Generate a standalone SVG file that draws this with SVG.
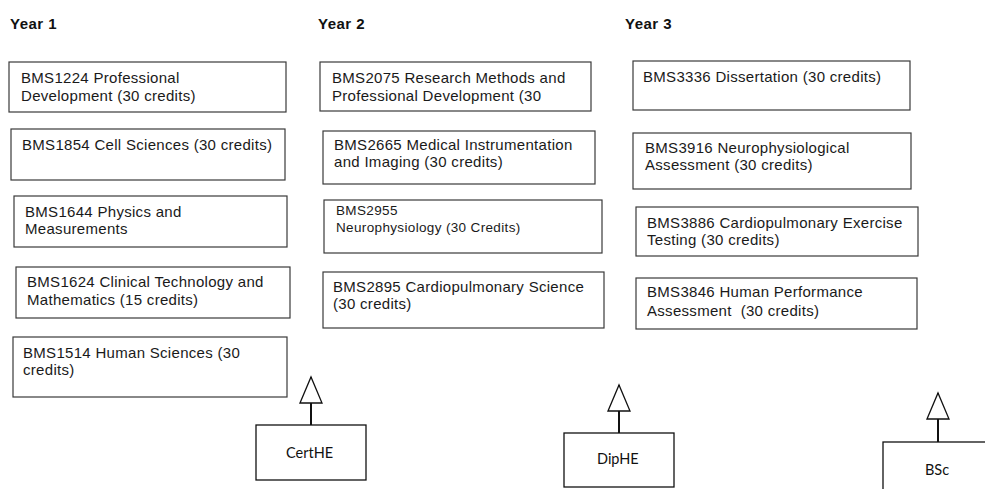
<svg xmlns="http://www.w3.org/2000/svg" width="985" height="489" viewBox="0 0 985 489">
<style>
  .bg{fill:#ffffff}
  .box{fill:#ffffff;stroke:#3a3a3a;stroke-width:1.2}
  .t{font-family:"Liberation Sans",Arial,sans-serif;font-size:15px;letter-spacing:0.3px;fill:#1a1a1a;white-space:pre}
  .ts{font-family:"Liberation Sans",Arial,sans-serif;font-size:13.5px;letter-spacing:0.35px;fill:#1a1a1a}
  .h{font-family:"Liberation Sans",Arial,sans-serif;font-size:15px;font-weight:bold;letter-spacing:0.5px;fill:#111}
  .q{fill:#ffffff;stroke:#111;stroke-width:1.3}
  .qt{font-family:Lato,"Liberation Sans",sans-serif;font-size:14.5px;fill:#111}
  .stem{stroke:#111;stroke-width:2;fill:none}
</style>
<defs>
  <marker id="tri" markerUnits="userSpaceOnUse" markerWidth="30" markerHeight="26" viewBox="-2 -2 30 26" refX="26" refY="11" orient="auto">
    <path d="M0,0 L26,11 L0,22 Z" fill="#ffffff" stroke="#111" stroke-width="1.3"/>
  </marker>
</defs>
<rect class="bg" x="0" y="0" width="985" height="489"/>

<g id="headers">
  <text class="h" x="10" y="29">Year 1</text>
  <text class="h" x="318" y="29">Year 2</text>
  <text class="h" x="625" y="29">Year 3</text>
</g>

<g id="bms1224">
  <rect class="box" x="9" y="62" width="277" height="50"/>
  <text class="t" x="21" y="83">BMS1224 Professional</text>
  <text class="t" x="21" y="101">Development (30 credits)</text>
</g>
<g id="bms1854">
  <rect class="box" x="11" y="129" width="274" height="51"/>
  <text class="t" x="22" y="150">BMS1854 Cell Sciences (30 credits)</text>
</g>
<g id="bms1644">
  <rect class="box" x="14" y="196" width="273" height="51"/>
  <text class="t" x="25" y="217">BMS1644 Physics and</text>
  <text class="t" x="25" y="234">Measurements</text>
</g>
<g id="bms1624">
  <rect class="box" x="16" y="267" width="274" height="51"/>
  <text class="t" x="27" y="287">BMS1624 Clinical Technology and</text>
  <text class="t" x="27" y="305">Mathematics (15 credits)</text>
</g>
<g id="bms1514">
  <rect class="box" x="13" y="337" width="274" height="60"/>
  <text class="t" x="23" y="358">BMS1514 Human Sciences (30</text>
  <text class="t" x="23" y="375">credits)</text>
</g>

<g id="bms2075">
  <rect class="box" x="320" y="62" width="271" height="49"/>
  <text class="t" x="332" y="83">BMS2075 Research Methods and</text>
  <text class="t" x="332" y="101">Professional Development (30</text>
</g>
<g id="bms2665">
  <rect class="box" x="323" y="131" width="272" height="53"/>
  <text class="t" x="334" y="150">BMS2665 Medical Instrumentation</text>
  <text class="t" x="334" y="167">and Imaging (30 credits)</text>
</g>
<g id="bms2955">
  <rect class="box" x="324" y="200" width="278" height="53"/>
  <text class="ts" x="336" y="215">BMS2955</text>
  <text class="ts" x="336" y="232">Neurophysiology (30 Credits)</text>
</g>
<g id="bms2895">
  <rect class="box" x="323" y="272" width="281" height="56"/>
  <text class="t" x="333" y="292">BMS2895 Cardiopulmonary Science</text>
  <text class="t" x="333" y="309">(30 credits)</text>
</g>

<g id="bms3336">
  <rect class="box" x="633" y="61" width="277" height="49"/>
  <text class="t" x="643" y="82">BMS3336 Dissertation (30 credits)</text>
</g>
<g id="bms3916">
  <rect class="box" x="633" y="133" width="278" height="56"/>
  <text class="t" x="645" y="153">BMS3916 Neurophysiological</text>
  <text class="t" x="645" y="170">Assessment (30 credits)</text>
</g>
<g id="bms3886">
  <rect class="box" x="636" y="207" width="282" height="49"/>
  <text class="t" x="647" y="228">BMS3886 Cardiopulmonary Exercise</text>
  <text class="t" x="647" y="245">Testing (30 credits)</text>
</g>
<g id="bms3846">
  <rect class="box" x="636" y="278" width="281" height="51"/>
  <text class="t" x="647" y="297">BMS3846 Human Performance</text>
  <text class="t" x="647" y="316" xml:space="preserve">Assessment  (30 credits)</text>
</g>

<g id="certhe">
  <rect class="q" x="256" y="425" width="110" height="55"/>
  <text class="qt" x="286" y="458">CertHE</text>
</g>
<g id="diphe">
  <rect class="q" x="564" y="433" width="110" height="54"/>
  <text class="qt" x="597" y="464">DipHE</text>
</g>
<g id="bsc">
  <rect class="q" x="883" y="442" width="110" height="55"/>
  <text class="qt" x="925" y="475">BSc</text>
</g>

<g id="connectors">
  <line class="stem" x1="311" y1="425" x2="311" y2="377" marker-end="url(#tri)"/>
  <line class="stem" x1="619" y1="433" x2="619" y2="385" marker-end="url(#tri)"/>
  <line class="stem" x1="938" y1="442" x2="938" y2="393" marker-end="url(#tri)"/>
</g>
</svg>
